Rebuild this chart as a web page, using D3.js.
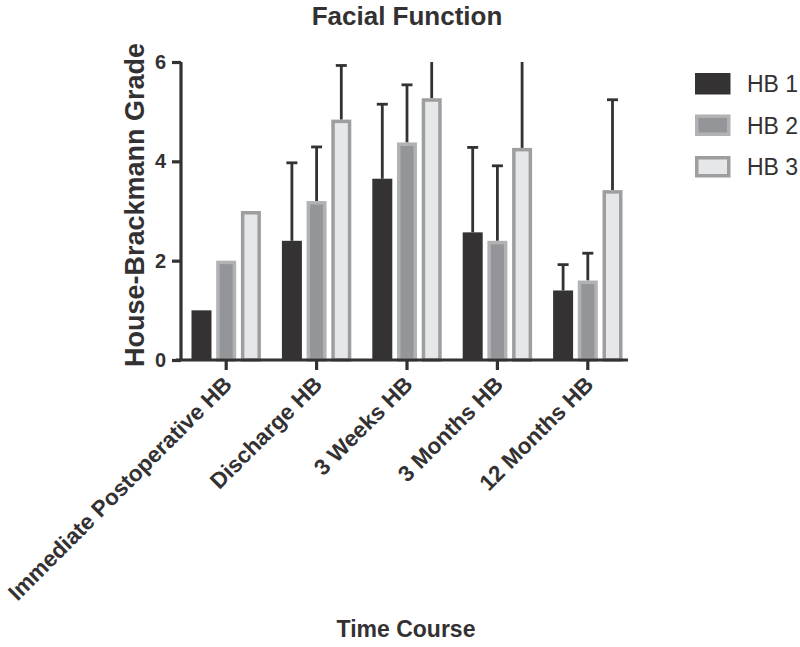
<!DOCTYPE html>
<html><head><meta charset="utf-8">
<script src="https://cdn.jsdelivr.net/npm/d3@7"></script>
<style>body{margin:0;background:#fff}</style>
</head><body>
<svg id="c" width="800" height="647"></svg>
<script>
const categories = ["Immediate Postoperative HB","Discharge HB","3 Weeks HB","3 Months HB","12 Months HB"];
const seriesNames = ["HB 1","HB 2","HB 3"];
const hb1 = [1.0, 2.4, 3.65, 2.57, 1.4];
const hb2 = [2.0, 3.2, 4.38, 2.4, 1.6];
const hb3 = [3.0, 4.84, 5.27, 4.27, 3.42];
const hb1Err = [null, 3.97, 5.15, 4.28, 1.92];
const hb2Err = [null, 4.29, 5.54, 3.91, 2.15];
const hb3Err = [null, 5.93, 6.5, 6.8, 5.24];
const yTicks = [0,2,4,6];

const fills = ["#343233","#939598","#e6e7e8"];
const strokes = ["#343233","#b1b2b4","#9d9ea0"];
const vals = [hb1,hb2,hb3], errs=[hb1Err,hb2Err,hb3Err];
const dark = "#333132";
const font = "'Liberation Sans', Arial, Helvetica, sans-serif";

const svg = d3.select("#c");
const x = d3.scaleBand().domain(categories).range([181,633]).paddingInner(0).paddingOuter(0);
const y = d3.scaleLinear().domain([0,6]).range([360,62]);
const barW = 20, pitch = 24.7;

const g = svg.append("g");
seriesNames.forEach((s,si)=>{
  const cx = i => x(categories[i]) + x.bandwidth()/2 + (si-1)*pitch;
  categories.forEach((c,i)=>{
    const e = errs[si][i];
    if(e==null) return;
    const top = Math.min(e,6);
    g.append("line").attr("x1",cx(i)).attr("x2",cx(i)).attr("y1",y(vals[si][i])).attr("y2",y(top))
      .attr("stroke",dark).attr("stroke-width",2.8);
    if(e<=6){
      g.append("line").attr("x1",cx(i)-5.5).attr("x2",cx(i)+5.5).attr("y1",y(top)).attr("y2",y(top))
        .attr("stroke",dark).attr("stroke-width",2.8);
    }
  });
  categories.forEach((c,i)=>{
    const sw = si===0?0:3.5;
    g.append("rect")
      .attr("x",cx(i)-barW/2+sw/2).attr("width",barW-sw)
      .attr("y",y(vals[si][i])+sw/2).attr("height",y(0)-y(vals[si][i])-sw/2)
      .attr("fill",fills[si]).attr("stroke",si===0?"none":strokes[si]).attr("stroke-width",sw);
  });
});

const yAxis = svg.append("g").attr("transform","translate(181,0)")
  .call(d3.axisLeft(y).tickValues(yTicks).tickFormat(d3.format("d")).tickSize(9).tickPadding(6));
const xAxis = svg.append("g").attr("transform","translate(0,360)")
  .call(d3.axisBottom(x).tickSize(10).tickSizeOuter(0));
[yAxis,xAxis].forEach(a=>{
  a.select(".domain").attr("stroke",dark).attr("stroke-width",3.2);
  a.selectAll(".tick line").attr("stroke",dark).attr("stroke-width",3.2);
  a.selectAll("text").attr("fill",dark).attr("font-family",font).attr("font-weight","bold");
});
yAxis.selectAll("text").attr("font-size",20);
xAxis.selectAll("text").attr("font-size",22.5);
yAxis.select(".domain").attr("d","M0,360V62");
xAxis.select(".domain").attr("d","M176,0H628");
xAxis.selectAll(".tick text").attr("text-anchor","end").attr("dy",0).attr("y",0)
  .attr("transform","translate(7,26) rotate(-45)");

svg.append("text").attr("x",407).attr("y",25).attr("text-anchor","middle")
  .attr("font-family",font).attr("font-weight","bold").attr("font-size",26).attr("fill",dark).text("Facial Function");
svg.append("text").attr("transform","translate(143.5,205) rotate(-90)").attr("text-anchor","middle")
  .attr("font-family",font).attr("font-weight","bold").attr("font-size",27).attr("fill",dark).text("House-Brackmann Grade");
svg.append("text").attr("x",406).attr("y",637).attr("text-anchor","middle")
  .attr("font-family",font).attr("font-weight","bold").attr("font-size",23).attr("fill",dark).text("Time Course");

const leg = svg.append("g");
seriesNames.forEach((s,si)=>{
  const yy = 73 + si*41.5;
  const sw = si===0?0:3.5;
  leg.append("rect").attr("x",695+sw/2).attr("y",yy+sw/2).attr("width",35.5-sw).attr("height",21.5-sw)
    .attr("fill",fills[si]).attr("stroke",si===0?"none":strokes[si]).attr("stroke-width",sw);
  leg.append("text").attr("x",747).attr("y",yy+19).attr("font-family",font).attr("font-size",23)
    .attr("fill",dark).text(s);
});
</script>
</body></html>
